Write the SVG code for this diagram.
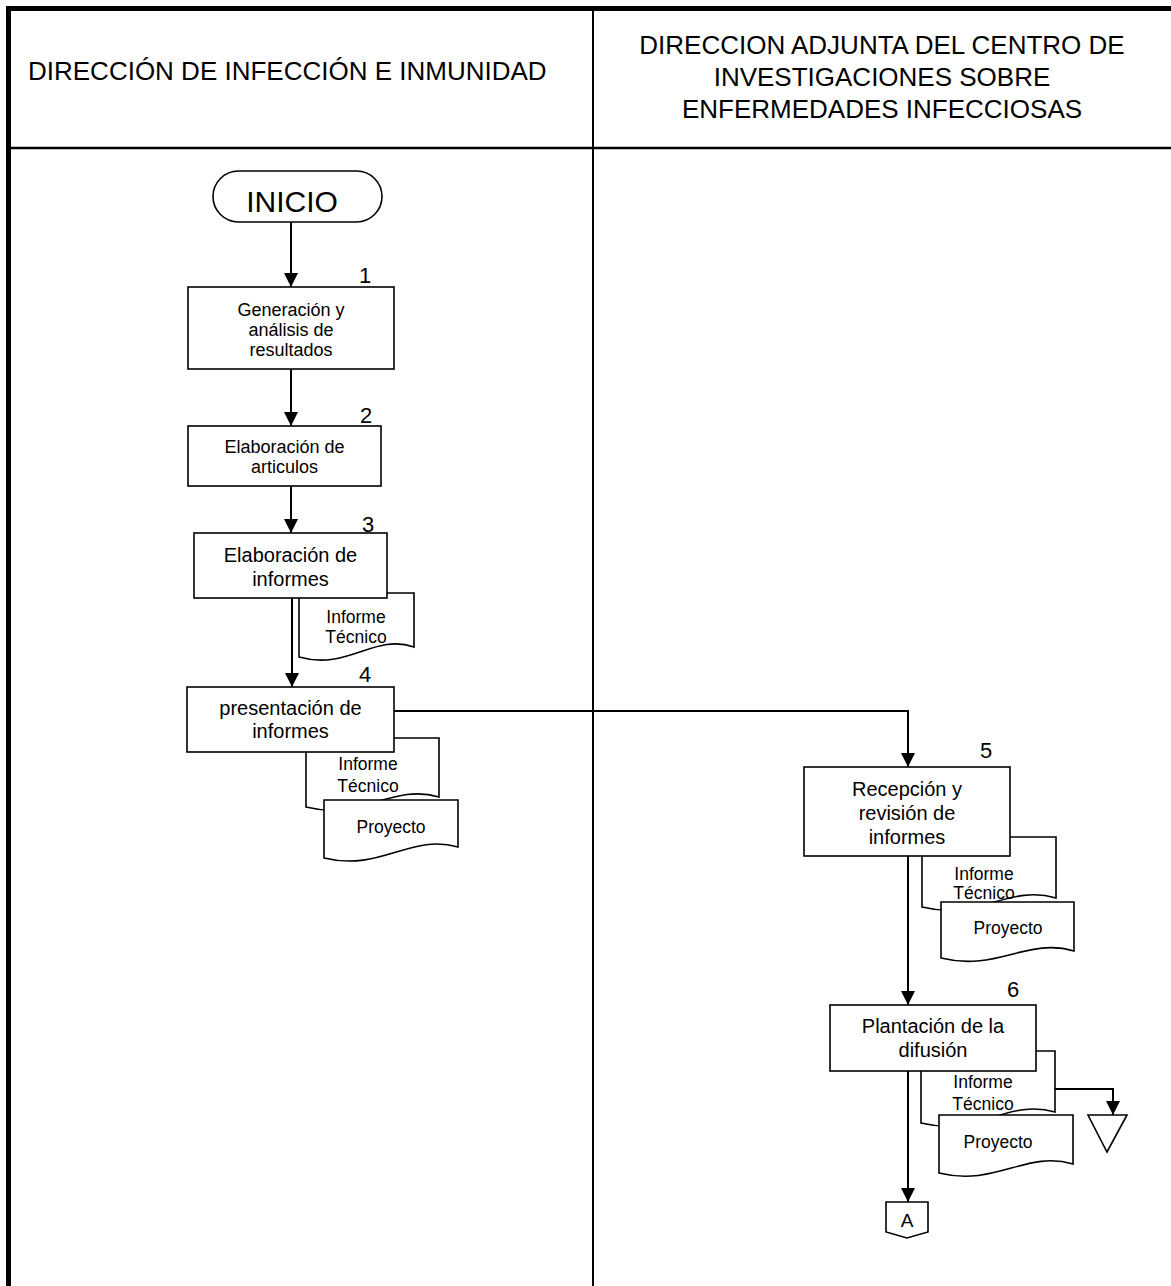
<svg xmlns="http://www.w3.org/2000/svg" width="1171" height="1286" viewBox="0 0 1171 1286">
<style>
text{font-family:"Liberation Sans",Arial,sans-serif;fill:#000}
.hdr{font-size:26px}
.box{fill:#fff;stroke:#000;stroke-width:1.6}
.doc{fill:#fff;stroke:#000;stroke-width:1.6}
.t20{font-size:20px;text-anchor:middle}
.t18{font-size:18px;text-anchor:middle}
.t17{font-size:17.5px;text-anchor:middle}
.num{font-size:22px;text-anchor:middle}
.conn{fill:none;stroke:#000;stroke-width:2;marker-end:url(#arr)}
</style>
<defs>
<marker id="arr" viewBox="0 0 14 14" refX="14" refY="7" markerWidth="14" markerHeight="14" markerUnits="userSpaceOnUse" orient="auto">
<path d="M0,0 L14,7 L0,14 z" fill="#000"/>
</marker>
</defs>
<rect width="1171" height="1286" fill="#fff"/>
<g id="frame" stroke="#000" fill="none">
<line x1="8.5" y1="6" x2="8.5" y2="1286" stroke-width="5"/>
<line x1="6" y1="8.5" x2="1171" y2="8.5" stroke-width="5"/>
<line x1="8" y1="148" x2="1171" y2="148" stroke-width="2.5"/>
<line x1="593" y1="8" x2="593" y2="1286" stroke-width="2"/>
</g>
<g id="lane1-header"><text class="hdr" x="28" y="80">DIRECCIÓN DE INFECCIÓN E INMUNIDAD</text></g>
<g id="lane2-header">
<text class="hdr" x="882" y="54" text-anchor="middle">DIRECCION ADJUNTA DEL CENTRO DE</text>
<text class="hdr" x="882" y="86" text-anchor="middle">INVESTIGACIONES SOBRE</text>
<text class="hdr" x="882" y="118" text-anchor="middle">ENFERMEDADES INFECCIOSAS</text>
</g>
<g id="inicio">
<rect class="box" x="213" y="171" width="169" height="51" rx="25.5"/>
<text x="292" y="212" font-size="30" text-anchor="middle">INICIO</text>
</g>
<g id="step1">
<rect class="box" x="188" y="287" width="206" height="82"/>
<text class="num" x="365" y="283">1</text>
<text class="t18" x="291" y="316">Generación y</text>
<text class="t18" x="291" y="336">análisis de</text>
<text class="t18" x="291" y="356">resultados</text>
</g>
<g id="step2">
<rect class="box" x="188" y="426" width="193" height="60"/>
<text class="num" x="366" y="423">2</text>
<text class="t18" x="284.5" y="453">Elaboración de</text>
<text class="t18" x="284.5" y="473">articulos</text>
</g>
<g id="step3">
<path class="doc" d="M299,593 H414 V647 C374,633 348,671 299,657 Z"/>
<text class="t17" x="356" y="623">Informe</text>
<text class="t17" x="356" y="643">Técnico</text>
<rect class="box" x="194" y="533" width="193" height="65"/>
<text class="num" x="368" y="532">3</text>
<text class="t20" x="290.5" y="562">Elaboración de</text>
<text class="t20" x="290.5" y="586">informes</text>
</g>
<g id="step4">
<path class="doc" d="M306,738 H439 V797 C392,783 362,821 306,807 Z"/>
<text class="t17" x="368" y="770">Informe</text>
<text class="t17" x="368" y="792">Técnico</text>
<path class="doc" d="M324,800 H458 V847 C411,833 381,872 324,858 Z"/>
<text class="t17" x="391" y="833">Proyecto</text>
<rect class="box" x="187" y="687" width="207" height="65"/>
<text class="num" x="365" y="682">4</text>
<text class="t20" x="290.5" y="715">presentación de</text>
<text class="t20" x="290.5" y="738">informes</text>
</g>
<g id="step5">
<path class="doc" d="M922,837 H1056 V898 C1009,884 979,921 922,907 Z"/>
<text class="t17" x="984" y="880">Informe</text>
<text class="t17" x="984" y="899">Técnico</text>
<path class="doc" d="M941,902 H1074 V951 C1027,937 997,972 941,958 Z"/>
<text class="t17" x="1008" y="934">Proyecto</text>
<rect class="box" x="804" y="767" width="206" height="89"/>
<text class="num" x="986" y="758">5</text>
<text class="t20" x="907" y="796">Recepción y</text>
<text class="t20" x="907" y="820">revisión de</text>
<text class="t20" x="907" y="844">informes</text>
</g>
<g id="step6">
<path class="doc" d="M921,1051 H1055 V1112 C1008,1098 978,1137 921,1123 Z"/>
<text class="t17" x="983" y="1088">Informe</text>
<text class="t17" x="983" y="1110">Técnico</text>
<path class="doc" d="M939,1115 H1073 V1164 C1026,1150 996,1187 939,1173 Z"/>
<text class="t17" x="998" y="1148">Proyecto</text>
<rect class="box" x="830" y="1005" width="206" height="66"/>
<text class="num" x="1013" y="997">6</text>
<text class="t20" x="933" y="1033">Plantación de la</text>
<text class="t20" x="933" y="1057">difusión</text>
</g>
<g id="archive">
<polygon class="box" points="1088,1115 1127,1115 1107,1152"/>
</g>
<g id="connector-A">
<polygon class="box" points="886,1202 928,1202 928,1232 907,1238 886,1232"/>
<text x="907" y="1227" font-size="19" text-anchor="middle">A</text>
</g>
<g id="connectors">
<path class="conn" d="M291,222 V287"/>
<path class="conn" d="M291,369 V426"/>
<path class="conn" d="M291,486 V533"/>
<path class="conn" d="M292,598 V687"/>
<path class="conn" d="M394,711 H908 V767"/>
<path class="conn" d="M908,856 V1005"/>
<path class="conn" d="M908,1071 V1202"/>
<path class="conn" d="M1055,1089 H1113 V1115"/>
</g>
</svg>
